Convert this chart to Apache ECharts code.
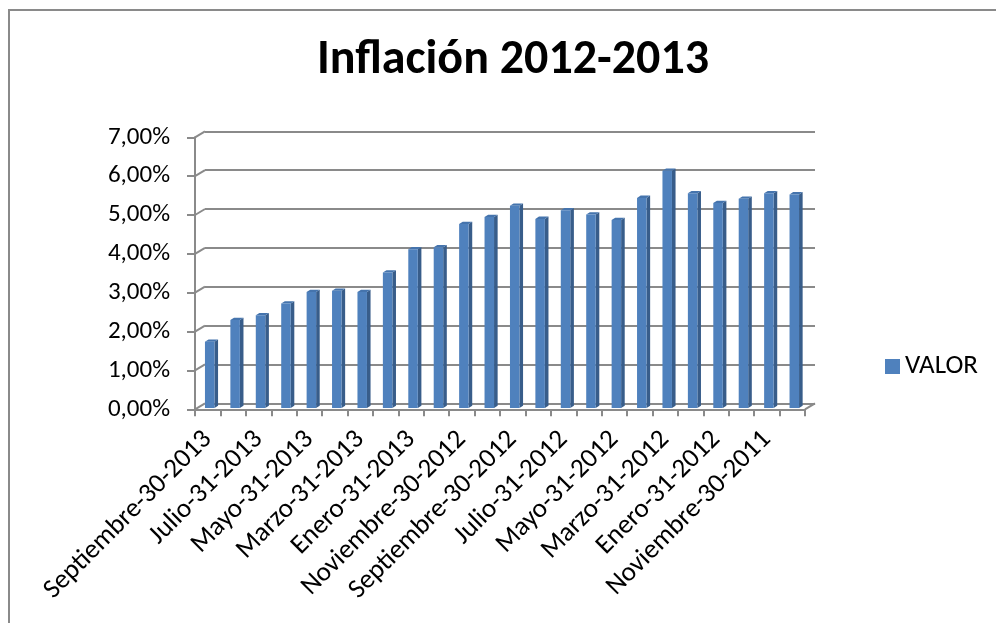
<!DOCTYPE html>
<html>
<head>
<meta charset="utf-8">
<script src="https://cdn.jsdelivr.net/npm/echarts@6/dist/echarts.min.js"></script>
<style>
html,body{margin:0;padding:0;background:#fff;}
#chart{width:996px;height:623px;}
</style>
</head>
<body>
<div id="chart"></div>
<script>
var categories = [
  'Septiembre-30-2013','Agosto-31-2013','Julio-31-2013','Junio-30-2013','Mayo-31-2013','Abril-30-2013',
  'Marzo-31-2013','Febrero-28-2013','Enero-31-2013','Diciembre-31-2012','Noviembre-30-2012','Octubre-31-2012',
  'Septiembre-30-2012','Agosto-31-2012','Julio-31-2012','Junio-30-2012','Mayo-31-2012','Abril-30-2012',
  'Marzo-31-2012','Febrero-29-2012','Enero-31-2012','Diciembre-31-2011','Noviembre-30-2011','Octubre-31-2011'
];
var valor = [1.65, 2.21, 2.33, 2.63, 2.93, 2.96, 2.93, 3.43, 4.03, 4.08, 4.68, 4.86,
             5.15, 4.81, 5.03, 4.92, 4.78, 5.35, 6.05, 5.47, 5.22, 5.33, 5.47, 5.44];
var yTicks = [0, 1, 2, 3, 4, 5, 6, 7];
var seriesName = 'VALOR';
var titleText = 'Inflación 2012-2013';

var FONT = 'Carlito, Lato, sans-serif';
var GRAY = '#8a8a8a';
var DX = 10, DY = -6;

var chart = echarts.init(document.getElementById('chart'), null, {renderer: 'canvas'});

function fmt(v){ return v.toFixed(2).replace('.', ',') + '%'; }

var option = {
  animation: false,
  backgroundColor: '#ffffff',
  graphic: [{
    type: 'rect', silent: true, z: -10,
    shape: {x: 9, y: 10, width: 1200, height: 1000},
    style: {fill: 'none', stroke: GRAY, lineWidth: 2}
  }],
  title: {
    text: titleText,
    left: 508, top: 32, textAlign: 'center',
    textStyle: {fontFamily: FONT, fontWeight: 'bold', fontSize: 48, color: '#000'}
  },
  legend: {
    data: [seriesName],
    left: 880, top: 348,
    icon: 'rect', itemWidth: 15, itemHeight: 15, itemGap: 6,
    textStyle: {fontFamily: FONT, fontSize: 27, color: '#000', padding: [0,0,0,0]}
  },
  grid: [
    {left: 195, right: 191, top: 137.3, bottom: 213.7},
    {left: 205, right: 181, top: 131.3, bottom: 219.7}
  ],
  xAxis: [
    {
      type: 'category', gridIndex: 0, data: categories, boundaryGap: true,
      axisLine: {show: true, lineStyle: {color: GRAY, width: 2}},
      axisTick: {show: true, interval: 0, length: 7, lineStyle: {color: GRAY, width: 2}},
      axisLabel: {interval: 1, rotate: 45, margin: 26, fontFamily: FONT, fontSize: 27, color: '#000'}
    },
    {
      type: 'category', gridIndex: 1, data: categories, show: false
    }
  ],
  yAxis: [
    {
      type: 'value', gridIndex: 0, min: 0, max: 7, interval: 1,
      axisLine: {show: true, lineStyle: {color: GRAY, width: 2}},
      axisTick: {show: true, length: 8, lineStyle: {color: GRAY, width: 2}},
      splitLine: {show: false},
      axisLabel: {margin: 25, fontFamily: FONT, fontSize: 25, color: '#000', formatter: fmt}
    },
    {
      type: 'value', gridIndex: 1, min: 0, max: 7, interval: 1,
      axisLine: {show: false}, axisTick: {show: false}, axisLabel: {show: false},
      splitLine: {show: true, lineStyle: {color: GRAY, width: 2}}
    }
  ],
  series: [
    {
      name: 'frame', type: 'custom', xAxisIndex: 0, yAxisIndex: 0, silent: true, z: 3,
      data: yTicks.map(function(v){ return [0, v, -1]; }).concat([[categories.length - 1, 0, 1]]),
      renderItem: function(params, api){
        var c = api.coord([api.value(0), api.value(1)]);
        var half = api.size([1, 0])[0] / 2;
        var x = c[0] + api.value(2) * half;
        return {
          type: 'line',
          shape: {x1: x, y1: c[1], x2: x + DX, y2: c[1] + DY},
          style: {stroke: GRAY, lineWidth: 2}
        };
      }
    },
    {
      name: seriesName, type: 'custom', xAxisIndex: 0, yAxisIndex: 0, z: 5,
      itemStyle: {color: '#4F81BD'},
      data: valor.map(function(v, i){ return [i, v]; }),
      renderItem: function(params, api){
        var top = api.coord([api.value(0), api.value(1)]);
        var base = api.coord([api.value(0), 0]);
        var w = 9.5, d = 3.6, r = -2.3;
        var x0 = top[0] + 2 - w / 2, x1 = x0 + w;
        var yt = top[1] - 3.5, yb = base[1] - 1.3;
        return {
          type: 'group',
          children: [
            {type: 'polygon', shape: {points: [[x1, yt], [x1 + d, yt + r], [x1 + d, yb + r], [x1, yb]]},
             style: {fill: '#385D8A'}},
            {type: 'polygon', shape: {points: [[x0, yt], [x1, yt], [x1 + d, yt + r], [x0 + d, yt + r]]},
             style: {fill: '#4574AD'}},
            {type: 'rect', shape: {x: x0, y: yt, width: w, height: yb - yt},
             style: {fill: '#4F81BD'}}
          ]
        };
      }
    }
  ]
};
chart.setOption(option);
</script>
</body>
</html>
